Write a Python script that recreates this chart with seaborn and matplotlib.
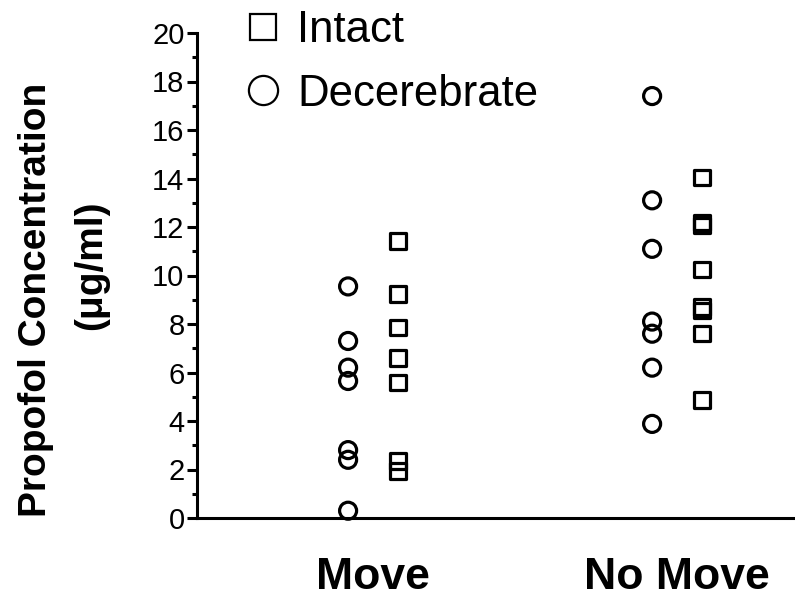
import matplotlib
matplotlib.use("Agg")
import matplotlib.pyplot as plt
from matplotlib.lines import Line2D
from matplotlib.ticker import MultipleLocator
import seaborn as sns
import pandas as pd

categories = ["Move", "No Move"]
groups = ["Decerebrate", "Intact"]
move_decerebrate = [9.55, 7.3, 6.2, 5.65, 2.8, 2.4, 0.3]
move_intact = [11.42, 9.24, 7.84, 6.6, 5.6, 2.35, 1.94]
nomove_decerebrate = [17.4, 13.1, 11.1, 8.1, 7.6, 6.2, 3.88]
nomove_intact = [14.05, 12.2, 12.05, 10.25, 8.7, 8.55, 7.6, 4.87]
y_ticks = [0, 2, 4, 6, 8, 10, 12, 14, 16, 18, 20]

sns.set_style("ticks")
plt.rcParams["font.family"] = ["Liberation Sans", "DejaVu Sans"]
plt.rcParams["text.color"] = "black"
plt.rcParams["xtick.color"] = "black"
plt.rcParams["ytick.color"] = "black"
plt.rcParams["xtick.labelcolor"] = "black"
plt.rcParams["ytick.labelcolor"] = "black"

rows = []
for cat, grp, vals in [("Move", "Decerebrate", move_decerebrate),
                       ("Move", "Intact", move_intact),
                       ("No Move", "Decerebrate", nomove_decerebrate),
                       ("No Move", "Intact", nomove_intact)]:
    for v in vals:
        rows.append({"category": cat, "group": grp, "value": v})
df = pd.DataFrame(rows)
offset = {"Decerebrate": -0.082, "Intact": 0.082}
df["xpos"] = df["category"].map({c: i for i, c in enumerate(categories)}) + df["group"].map(offset)

fig = plt.figure(figsize=(7.95, 5.99), dpi=100)
ax = fig.add_axes([197 / 795, 1 - 518 / 599, 1 - 197 / 795, (518 - 33) / 599])

styles = {"Decerebrate": ("o", 150), "Intact": ("s", 120)}
for grp in groups:
    m, s = styles[grp]
    sns.scatterplot(data=df[df["group"] == grp], x="xpos", y="value", marker=m, s=s,
                    facecolor="none", edgecolor="black", linewidth=2.3, ax=ax,
                    clip_on=False, zorder=3, legend=False)

ax.set_xlim(-0.579, 1.388)
ax.set_ylim(0, 20)
ax.set_xticks(range(len(categories)))
ax.set_xticklabels(categories, fontsize=32, fontweight="bold", color="black")
ax.set_yticks(y_ticks)
ax.set_yticklabels([str(t) for t in y_ticks], fontsize=21, color="black")
ax.yaxis.set_minor_locator(MultipleLocator(1))
ax.tick_params(axis="x", length=0, pad=28)
ax.tick_params(axis="y", which="major", length=7, width=2.2, pad=2, direction="out", colors="black")
ax.tick_params(axis="y", which="minor", length=3.6, width=2.2, direction="out", colors="black")
ax.set_xlabel("")
ax.set_ylabel("")
for side in ["top", "right"]:
    ax.spines[side].set_visible(False)
for side in ["left", "bottom"]:
    ax.spines[side].set_linewidth(2.2)
    ax.spines[side].set_color("black")

fig.text(36 / 795, 1 - 300 / 599, "Propofol Concentration", rotation=90, fontsize=28,
         fontweight="bold", ha="center", va="center", color="black")
fig.text(91 / 795, 1 - 265 / 599, "(μg/ml)", rotation=90, fontsize=28,
         fontweight="bold", ha="center", va="center", color="black")

handles = [Line2D([], [], marker="s", linestyle="none", markersize=19, markerfacecolor="none",
                  markeredgecolor="black", markeredgewidth=1.6, label="Intact"),
           Line2D([], [], marker="o", linestyle="none", markersize=21, markerfacecolor="none",
                  markeredgecolor="black", markeredgewidth=1.6, label="Decerebrate")]
fig.legend(handles=handles, loc="upper left", bbox_to_anchor=(241 / 795, 1 - 10 / 599),
           frameon=False, fontsize=31.5, borderaxespad=0, borderpad=0, handlelength=1.0,
           handletextpad=0.29, labelspacing=0.52)

fig.savefig("out.png", dpi=100)
